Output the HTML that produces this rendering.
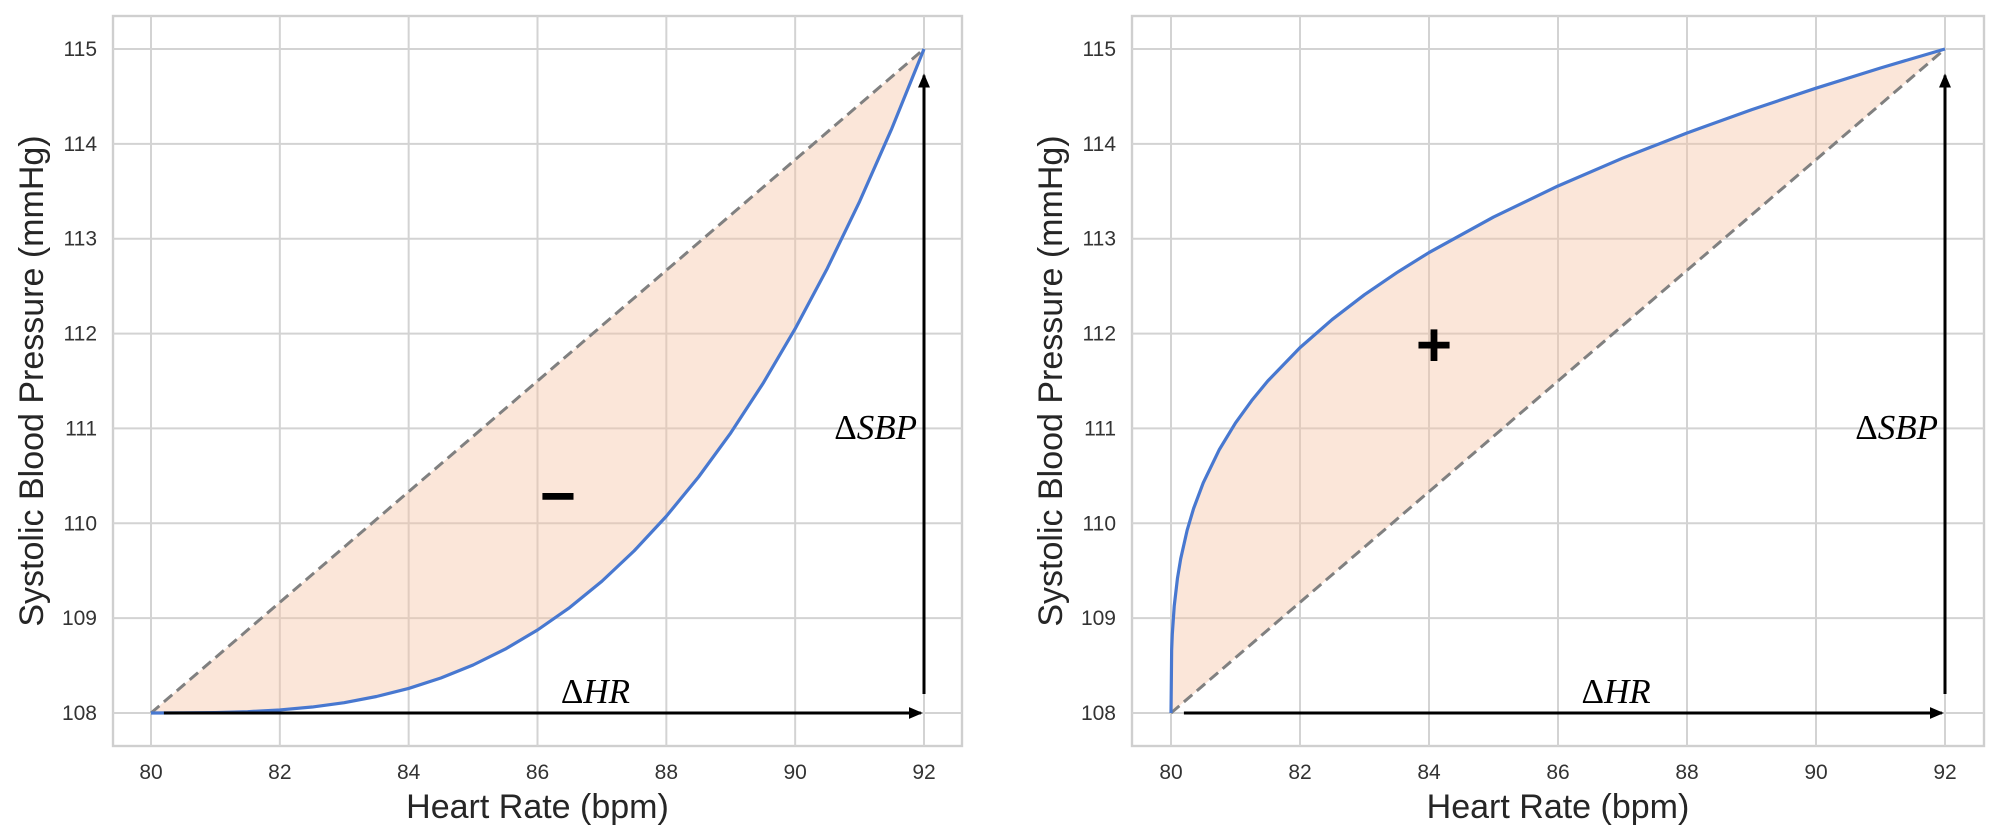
<!DOCTYPE html>
<html><head><meta charset="utf-8"><style>
html,body{margin:0;padding:0;background:#fff;}
svg{display:block;}
</style></head><body>
<svg id="chart" width="1999" height="839" xmlns="http://www.w3.org/2000/svg"></svg>
<script>
const xTicks = [80, 82, 84, 86, 88, 90, 92];
const yTicks = [108, 109, 110, 111, 112, 113, 114, 115];
const leftX = [80,80.5,81,81.5,82,82.5,83,83.5,84,84.5,85,85.5,86,86.5,87,87.5,88,88.5,89,89.5,90,90.5,91,91.5,92];
const leftY = [108,108.001,108.004,108.014,108.032,108.063,108.109,108.174,108.259,108.369,108.506,108.674,108.875,109.112,109.389,109.709,110.074,110.488,110.953,111.473,112.051,112.689,113.392,114.161,115];
const rightX = [80,80.01,80.02,80.05,80.1,80.15,80.25,80.35,80.5,80.75,81,81.25,81.5,82,82.5,83,83.5,84,85,86,87,88,89,90,91,92];
const rightY = [108,108.659,108.83,109.127,109.419,109.625,109.926,110.155,110.427,110.778,111.058,111.293,111.5,111.852,112.149,112.41,112.642,112.854,113.228,113.556,113.849,114.115,114.36,114.587,114.8,115];
const refX = [80, 92];
const refY = [108, 115];

const NS = "http://www.w3.org/2000/svg";
const svg = document.getElementById('chart');
function mk(tag, attrs, parent){
  const e = document.createElementNS(NS, tag);
  for (const k in attrs) e.setAttribute(k, attrs[k]);
  (parent||svg).appendChild(e);
  return e;
}
const defs = mk('defs', {});
const mrk = mk('marker', {id:'ah', markerWidth:'14', markerHeight:'12', refX:'12', refY:'6', orient:'auto', markerUnits:'userSpaceOnUse'}, defs);
mk('path', {d:'M0,0 L14,6 L0,12 Z', fill:'#000'}, mrk);

function deltaText(g, attrs, letters, name){
  const t = mk('text', attrs, g);
  const a = mk('tspan', {}, t); a.textContent = 'Δ';
  const b = mk('tspan', {'font-style':'italic'}, t); b.textContent = letters;
  
  
}

function panel(cfg){
  const g = mk('g', {});
  
  
  const xs = v => cfg.x0 + (v - 80) / 12 * (cfg.x1 - cfg.x0);
  const ys = v => 713 - (v - 108) / 7 * (713 - 49);
  const fr = mk('rect', {x:cfg.fl, y:16, width:cfg.fr-cfg.fl, height:730, fill:'#fff', stroke:'#cfcfcf', 'stroke-width':2.4}, g);
  
  
  xTicks.forEach(t => {
    const l = mk('line', {x1:xs(t), x2:xs(t), y1:16, y2:746, stroke:'#d3d3d3', 'stroke-width':2}, g);
    
    
    const tx = mk('text', {x:xs(t), y:779, 'text-anchor':'middle', 'font-size':21, fill:'#333', 'font-family':'Liberation Sans, sans-serif'}, g);
    tx.textContent = t;
    
    
  });
  yTicks.forEach(t => {
    const l = mk('line', {x1:cfg.fl, x2:cfg.fr, y1:ys(t), y2:ys(t), stroke:'#d3d3d3', 'stroke-width':2}, g);
    
    
    const tx = mk('text', {x:cfg.fl-16, y:ys(t)+7, 'text-anchor':'end', 'font-size':21, fill:'#333', 'font-family':'Liberation Sans, sans-serif'}, g);
    tx.textContent = t;
    
    
  });
  let d = '';
  cfg.cx.forEach((v,i) => { d += (i?'L':'M') + xs(v) + ',' + ys(cfg.cy[i]); });
  d += 'L' + xs(refX[1]) + ',' + ys(refY[1]) + 'L' + xs(refX[0]) + ',' + ys(refY[0]) + 'Z';
  const area = mk('path', {d:d, fill:'#f6c3a5', 'fill-opacity':0.42, stroke:'none'}, g);
  
  
  const ref = mk('line', {x1:xs(refX[0]), y1:ys(refY[0]), x2:xs(refX[1]), y2:ys(refY[1]), stroke:'#808080', 'stroke-width':3, 'stroke-dasharray':'11,6'}, g);
  
  
  let pd = '';
  cfg.cx.forEach((v,i) => { pd += (i?'L':'M') + xs(v) + ',' + ys(cfg.cy[i]); });
  const cur = mk('path', {d:pd, fill:'none', stroke:'#4878d0', 'stroke-width':3.2, 'stroke-linejoin':'round'}, g);
  
  
  const ha = mk('line', {x1:xs(80.2), y1:ys(108), x2:xs(91.95), y2:ys(108), stroke:'#000', 'stroke-width':3, 'marker-end':'url(#ah)'}, g);
  
  
  const va = mk('line', {x1:xs(92), y1:ys(108.2), x2:xs(92), y2:ys(114.72), stroke:'#000', 'stroke-width':3, 'marker-end':'url(#ah)'}, g);
  
  
  deltaText(g, {x:xs(86.9), y:703, 'text-anchor':'middle', 'font-size':35, 'font-family':'Liberation Serif, serif', fill:'#000'}, 'HR', 'delta-hr-label');
  deltaText(g, {x:xs(92)-7, y:439, 'text-anchor':'end', 'font-size':35, 'font-family':'Liberation Serif, serif', fill:'#000'}, 'SBP', 'delta-sbp-label');
  const sg = mk('text', {x:cfg.sx, y:cfg.sy, 'text-anchor':'middle', 'font-size':cfg.ss, 'font-family':'Liberation Sans, sans-serif', 'font-weight':'bold', fill:'#000'}, g);
  sg.textContent = cfg.sign;
  
  
  const xt = mk('text', {x:(cfg.fl+cfg.fr)/2, y:818, 'text-anchor':'middle', 'font-size':34, fill:'#262626', 'font-family':'Liberation Sans, sans-serif'}, g);
  xt.textContent = 'Heart Rate (bpm)';
  
  
  const yx = cfg.fl - 70;
  const yt = mk('text', {x:yx, y:381, 'text-anchor':'middle', 'font-size':34, fill:'#262626', 'font-family':'Liberation Sans, sans-serif', transform:'rotate(-90 '+yx+' 381)'}, g);
  yt.textContent = 'Systolic Blood Pressure (mmHg)';
  
  
}
panel({name:'left-panel-concave', x0:151, x1:924, fl:113, fr:962, cx:leftX, cy:leftY, sign:'−', sx:558, sy:517, ss:62});
panel({name:'right-panel-convex', x0:1171, x1:1945, fl:1132, fr:1984, cx:rightX, cy:rightY, sign:'+', sx:1434, sy:366, ss:62});
</script>
</body></html>
